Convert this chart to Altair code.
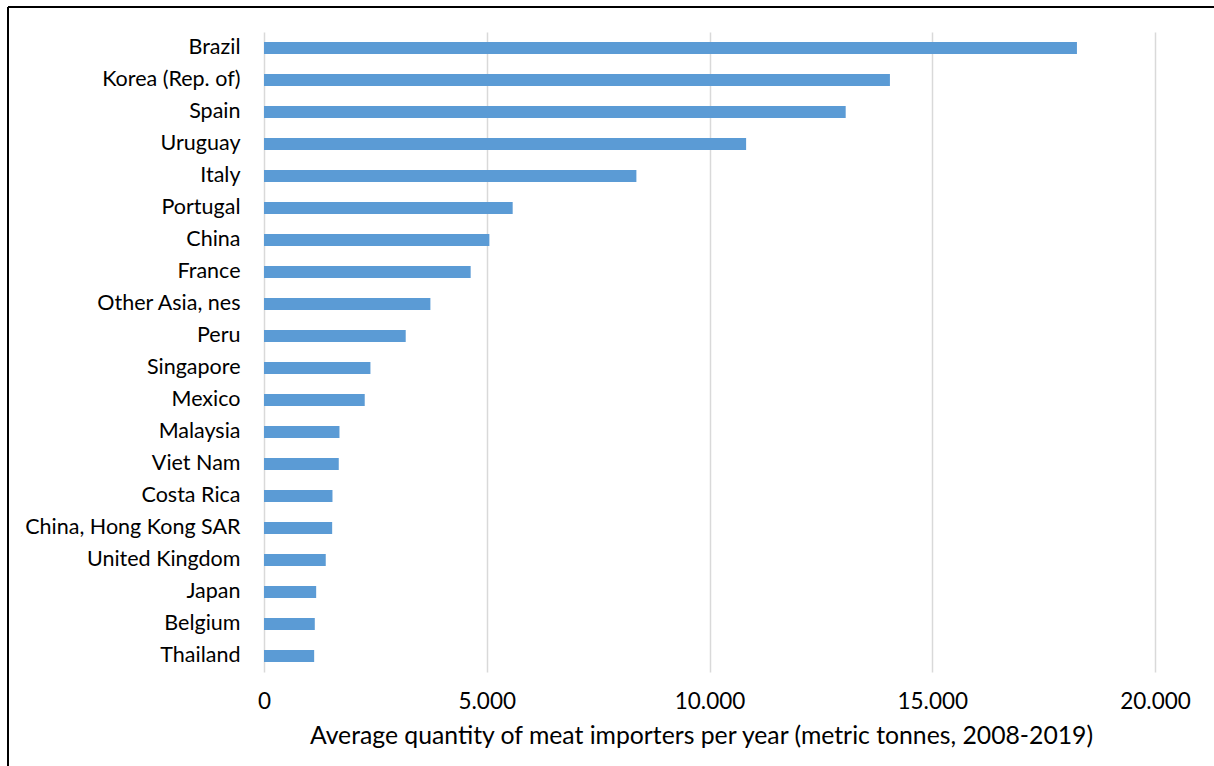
import altair as alt
import pandas as pd

countries = ["Brazil", "Korea (Rep. of)", "Spain", "Uruguay", "Italy", "Portugal",
             "China", "France", "Other Asia, nes", "Peru", "Singapore", "Mexico",
             "Malaysia", "Viet Nam", "Costa Rica", "China, Hong Kong SAR",
             "United Kingdom", "Japan", "Belgium", "Thailand"]
values = [18248, 14050, 13057, 10822, 8359, 5582, 5059, 4639, 3735, 3181, 2389,
          2261, 1694, 1678, 1537, 1530, 1386, 1171, 1140, 1126]
x_ticks = [0, 5000, 10000, 15000, 20000]

df = pd.DataFrame({"country": countries, "value": values})

FONT = "Lato"

bars = alt.Chart(df).mark_bar(color="#5b9bd5").encode(
    x=alt.X("value:Q",
            scale=alt.Scale(domain=[0, 20000], nice=False),
            axis=alt.Axis(values=x_ticks,
                          labelExpr="replace(format(datum.value, ','), ',', '.')",
                          title="Average quantity of meat importers per year (metric tonnes, 2008-2019)",
                          domain=False, ticks=False, grid=True,
                          gridColor="#d9d9d9", gridWidth=1.5,
                          labelFlush=False, labelOverlap=False,
                          labelFont=FONT, labelFontSize=22.5, labelColor="#000000",
                          labelPadding=18,
                          titleFont=FONT, titleFontSize=24.75, titleFontWeight="normal",
                          titleColor="#000000", titlePadding=11,
                          titleX=437, titleAlign="center")),
    y=alt.Y("country:N", sort=countries,
            scale=alt.Scale(paddingInner=0.625, paddingOuter=0.3125),
            axis=alt.Axis(title=None, domain=False, ticks=False,
                          labelFont=FONT, labelFontSize=21.5, labelColor="#000000",
                          labelPadding=24, labelLimit=400))
)

frame_left = alt.Chart(df).mark_rule(color="#000000", strokeWidth=2).encode(
    x=alt.value(-256), y=alt.value(-25), y2=alt.value(760))
frame_top = alt.Chart(df).mark_rule(color="#000000", strokeWidth=2).encode(
    x=alt.value(-256), x2=alt.value(960), y=alt.value(-25))

chart = alt.layer(bars, frame_left, frame_top).properties(
    width=891, height=640,
    autosize=alt.AutoSizeParams(type="none"),
    padding={"left": 264, "top": 32, "right": 59, "bottom": 94},
    background="#ffffff"
).configure_view(stroke=None)

chart.save("out.html", embed_options={"renderer": "svg", "actions": False})
